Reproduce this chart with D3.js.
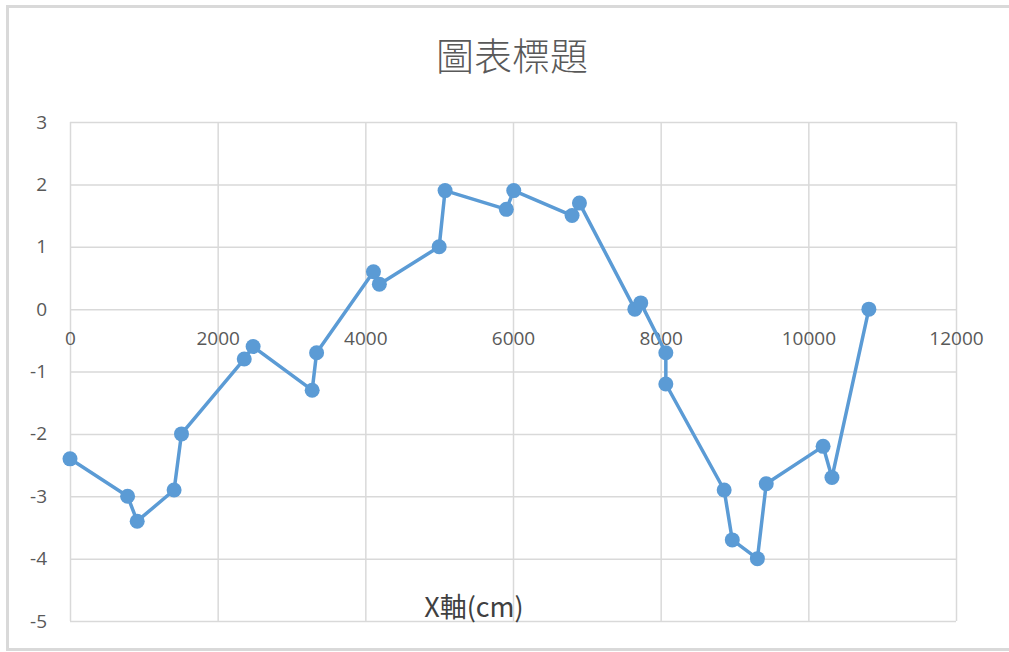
<!DOCTYPE html>
<html>
<head>
<meta charset="utf-8">
<script src="https://cdn.jsdelivr.net/npm/d3@7"></script>
<style>
  body { margin: 0; background: #fff; }
  .tick text { fill: #595959; font-family: "Open Sans", "Noto Sans", sans-serif; font-size: 19px; }
  .grid line { stroke: #d9d9d9; stroke-width: 1.5; }
</style>
</head>
<body>
<div id="chart"></div>
<script>
// data
const xVals = [0, 780, 910, 1410, 1510, 2360, 2480, 3280, 3340, 4110, 4190, 5000, 5080,
  5910, 6010, 6800, 6900, 7650, 7730, 8070, 8070, 8860, 8970, 9310, 9430, 10200, 10320, 10820];
const yVals = [-2.4, -3.0, -3.4, -2.9, -2.0, -0.8, -0.6, -1.3, -0.7, 0.6, 0.4, 1.0, 1.9,
  1.6, 1.9, 1.5, 1.7, 0.0, 0.1, -0.7, -1.2, -2.9, -3.7, -4.0, -2.8, -2.2, -2.7, 0.0];
const xTicks = [0, 2000, 4000, 6000, 8000, 10000, 12000];
const yTicks = [3, 2, 1, 0, -1, -2, -3, -4, -5];
const chartTitle = "圖表標題";
const xTitle = "X軸(cm)";

const W = 1009, H = 652;
const margin = {top: 122, right: 53, bottom: 31, left: 70};
const width = W - margin.left - margin.right,
      height = H - margin.top - margin.bottom;

const root = d3.select("#chart").append("svg")
    .attr("width", W)
    .attr("height", H);

// chart area border
root.append("rect")
    .attr("x", 7.5).attr("y", 6.5)
    .attr("width", W + 10).attr("height", H - 9)
    .attr("fill", "none")
    .attr("stroke", "#d9d9d9")
    .attr("stroke-width", 3);

root.append("text")
    .attr("x", 512).attr("y", 70)
    .attr("text-anchor", "middle")
    .attr("fill", "#595959")
    .style("font-family", '"Noto Sans CJK TC", sans-serif')
    .style("font-weight", 300)
    .style("font-size", "38px")
    .text(chartTitle);

const svg = root.append("g")
    .attr("transform", "translate(" + margin.left + "," + margin.top + ")");

let x = d3.scaleLinear().domain([0, 12000]).range([0, width]);
let y = d3.scaleLinear().domain([-5, 3]).range([height, 0]);

// gridlines
svg.append("g")
    .attr("class", "grid")
    .call(d3.axisLeft(y).tickValues(yTicks).tickSize(-width).tickFormat(""))
    .call(g => g.select(".domain").remove());
svg.append("g")
    .attr("class", "grid")
    .attr("transform", "translate(0," + height + ")")
    .call(d3.axisBottom(x).tickValues(xTicks).tickSize(-height).tickFormat(""))
    .call(g => g.select(".domain").remove());

// y labels (plain hyphen minus like the original)
svg.append("g")
    .call(d3.axisLeft(y)
        .tickValues(yTicks)
        .tickFormat(d => String(d))
        .tickSizeInner(0)
        .tickSizeOuter(0)
        .tickPadding(23)
    )
    .call(g => g.select(".domain").remove());

// x labels sit under the zero line
svg.append("g")
    .attr("transform", "translate(0," + (y(0) + 22) + ")")
    .call(d3.axisBottom(x)
        .tickValues(xTicks)
        .tickFormat(d => String(d))
        .tickSizeInner(0)
        .tickSizeOuter(0)
        .tickPadding(0)
    )
    .call(g => g.select(".domain").remove());

const data = xVals.map((v, i) => ({x: v, y: yVals[i]}));

svg.append("path")
    .datum(data)
    .attr("fill", "none")
    .attr("stroke", "#5b9bd5")
    .attr("stroke-width", 3.5)
    .attr("stroke-linejoin", "round")
    .attr("d", d3.line()
        .x(d => x(d.x))
        .y(d => y(d.y))
    );

svg.selectAll("circle")
    .data(data)
    .join("circle")
    .attr("cx", d => x(d.x))
    .attr("cy", d => y(d.y))
    .attr("r", 7.5)
    .attr("fill", "#5b9bd5");

svg.append("text")
    .attr("x", 404)
    .attr("y", height - 4)
    .attr("text-anchor", "middle")
    .attr("fill", "#404040")
    .style("font-family", '"Noto Sans CJK TC", sans-serif')
    .style("font-size", "27px")
    .text(xTitle);
</script>
</body>
</html>
